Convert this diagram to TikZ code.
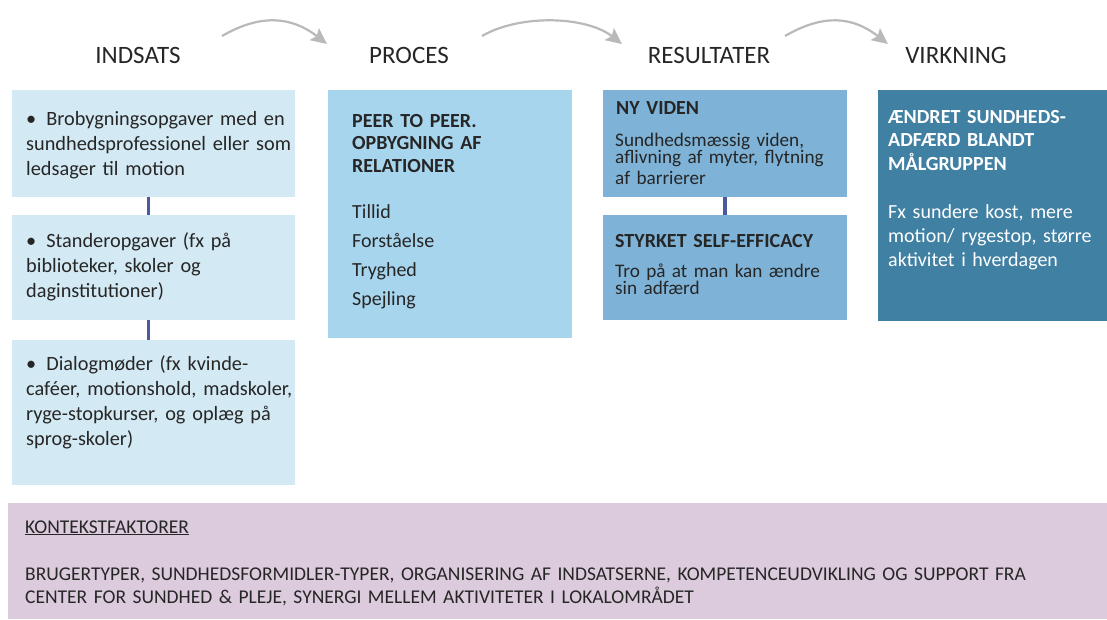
\documentclass[tikz,border=0pt]{standalone}
\usepackage{fontspec}
\setmainfont{Carlito}
\usetikzlibrary{arrows.meta}

\definecolor{tekstgraa}{RGB}{38,38,38}
\definecolor{pilgraa}{RGB}{185,185,185}
\definecolor{stregblaa}{RGB}{75,90,160}
\definecolor{indfarve}{RGB}{211,233,243}
\definecolor{procfarve}{RGB}{168,213,238}
\definecolor{resfarve}{RGB}{126,178,214}
\definecolor{virkfarve}{RGB}{63,128,163}
\definecolor{kontfarve}{RGB}{220,203,221}

\tikzset{
  overskrift/.style={anchor=base, inner sep=0pt, text=tekstgraa,
    font=\fontsize{25}{30}\selectfont},
  felt/.style={anchor=north west, inner sep=0pt, outer sep=0pt},
  tekst/.style={anchor=base west, inner sep=0pt, align=left, text width=320pt,
    text=tekstgraa, font=\fontsize{20}{24}\selectfont},
  fed/.style={tekst, font=\fontsize{20}{22.5}\selectfont\bfseries},
  streg/.style={draw=stregblaa, line width=3.5pt},
  pil/.style={draw=pilgraa, line width=2.2pt,
    -{Stealth[length=16pt,width=15pt,inset=3pt]}},
}

\begin{document}
\begin{tikzpicture}[x=1pt,y=-1pt]
\useasboundingbox (0,0) rectangle (1107,619);

% overskrifter
\foreach \x/\navn/\titel in {138/indsats/INDSATS, 409/proces/PROCES,
    709/resultater/RESULTATER, 956/virkning/VIRKNING}
  \node[overskrift] (\navn) at (\x,63) {\titel};

% pile mellem overskrifterne
\foreach \a/\b/\i in {222/327/1, 482/622/2, 785/888/3} {
  \coordinate (fra\i) at (\a,36);
  \coordinate (til\i) at (\b,44);
  \draw[pil] (fra\i) .. controls +(38,-22) and +(-36,-28) .. (til\i);
}

% indsats
\node[felt, fill=indfarve, minimum width=283pt, minimum height=107pt] (ind1) at (12,90) {};
\node[felt, fill=indfarve, minimum width=283pt, minimum height=105pt] (ind2) at (12,215) {};
\node[felt, fill=indfarve, minimum width=283pt, minimum height=145pt] (ind3) at (12,340) {};
\draw[streg] ([xshift=-5pt]ind1.south) -- ([xshift=-5pt]ind2.north);
\draw[streg] ([xshift=-5pt]ind2.south) -- ([xshift=-5pt]ind3.north);

\node[tekst, font=\fontsize{20.3}{25}\selectfont] (ind1tekst) at (26,125)
  {•\hspace{10pt}Brobygningsopgaver med en\\sundhedsprofessionel eller som\\ledsager til motion};
\node[tekst, font=\fontsize{20.3}{25}\selectfont] (ind2tekst) at (26,247)
  {•\hspace{10pt}Standeropgaver (fx på\\biblioteker, skoler og\\daginstitutioner)};
\node[tekst, font=\fontsize{20.3}{25}\selectfont] (ind3tekst) at (26,370)
  {•\hspace{10pt}Dialogmøder (fx kvinde-\\caféer, motionshold, madskoler,\\ryge-stopkurser, og oplæg på\\sprog-skoler)};

% proces
\node[felt, fill=procfarve, minimum width=244pt, minimum height=248pt] (proc) at (328,90) {};
\node[fed] (prochoved) at (352,127) {PEER TO PEER.\\OPBYGNING AF\\RELATIONER};
\foreach \ord [count=\i from 0] in {Tillid, Forståelse, Tryghed, Spejling}
  \node[tekst] (punkt\i) at (352,218+29*\i) {\ord};

% resultater
\node[felt, fill=resfarve, minimum width=244pt, minimum height=107pt] (res1) at (603,90) {};
\node[felt, fill=resfarve, minimum width=244pt, minimum height=105pt] (res2) at (603,215) {};
\draw[streg] (res1.south) -- (res2.north);

\node[fed] (res1hoved) at (616,114) {NY VIDEN};
\node[tekst, font=\fontsize{19.2}{17}\selectfont] (res1tekst) at (615,146)
  {Sundhedsmæssig viden,\\aflivning af myter, flytning\\[4pt]af barrierer};
\node[fed] (res2hoved) at (615,247) {STYRKET SELF-EFFICACY};
\node[tekst, font=\fontsize{19.2}{16}\selectfont] (res2tekst) at (615,277)
  {Tro på at man kan ændre\\sin adfærd};

% virkning
\node[felt, fill=virkfarve, minimum width=229pt, minimum height=231pt] (virk) at (878,90) {};
\node[fed, text=white, font=\fontsize{20}{23.5}\selectfont\bfseries] (virkhoved) at (888,123)
  {ÆNDRET SUNDHEDS-\\ADFÆRD BLANDT\\MÅLGRUPPEN};
\node[tekst, text=white] (virktekst) at (888,218)
  {Fx sundere kost, mere\\motion/ rygestop, større\\aktivitet i hverdagen};

% kontekstfaktorer
\node[felt, fill=kontfarve, minimum width=1099pt, minimum height=116pt] (kontekst) at (8,503) {};
\node[tekst, font=\fontsize{19.5}{23}\selectfont] (konthoved) at (25,533) {\underline{KONTEKSTFAKTORER}};
\node[tekst, text width=1080pt, font=\fontsize{19.5}{23}\selectfont] (konttekst) at (25,580)
  {BRUGERTYPER, SUNDHEDSFORMIDLER-TYPER, ORGANISERING AF INDSATSERNE, KOMPETENCEUDVIKLING OG SUPPORT FRA\\CENTER FOR SUNDHED \& PLEJE, SYNERGI MELLEM AKTIVITETER I LOKALOMRÅDET};
\end{tikzpicture}
\end{document}
